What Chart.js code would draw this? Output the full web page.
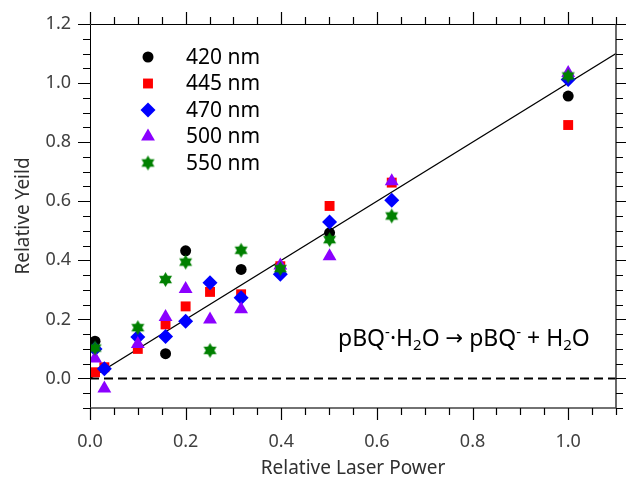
<!DOCTYPE html>
<html><head><meta charset="utf-8">
<script src="https://cdn.jsdelivr.net/npm/chart.js@4.4.0/dist/chart.umd.min.js"></script>
<style>html,body{margin:0;padding:0;background:#fff}#wrap{width:626px;height:481px;position:relative}canvas{display:block}</style>
</head><body><div id="wrap"><canvas id="c" width="626" height="481" style="width:626px;height:481px"></canvas></div>
<script>
// ---- data ----
const xValues = [0.0105, 0.03, 0.1, 0.158, 0.2, 0.251, 0.316, 0.398, 0.501, 0.631, 1.0];
const seriesNames = ['420 nm', '445 nm', '470 nm', '500 nm', '550 nm'];
const y420 = [0.126, null, null, 0.084, 0.432, null, 0.369, null, 0.493, null, 0.956];
const y445 = [0.021, 0.038, 0.100, 0.183, 0.244, 0.293, 0.285, 0.380, 0.584, 0.663, 0.858];
const y470 = [0.100, 0.033, 0.140, 0.142, 0.194, 0.324, 0.273, 0.353, 0.530, 0.603, 1.012];
const y500 = [0.068, -0.034, 0.117, 0.208, 0.303, 0.200, 0.234, 0.382, 0.414, 0.668, 1.034];
const y550 = [0.103, null, 0.172, 0.335, 0.394, 0.095, 0.434, 0.372, 0.470, 0.550, 1.024];
const fitX = [0, 1.1];
const fitY = [0, 1.1];
const zeroX = [0, 1.1];
const zeroY = [0, 0];
const xTickLabels = [0.0, 0.2, 0.4, 0.6, 0.8, 1.0];
const yTickLabels = [0.0, 0.2, 0.4, 0.6, 0.8, 1.0, 1.2];
// annotation pieces: [text, kind]  kind: n = normal, sup = superscript, sub = subscript, sym = symbol
const annotationParts = [['pBQ', 'n'], ['-', 'sup'], ['\u00B7H', 'n'], ['2', 'sub'], ['O ', 'n'], ['\u2192', 'sym'], [' pBQ', 'n'], ['-', 'sup'], [' + H', 'n'], ['2', 'sub'], ['O', 'n']];

const FONT = '"Noto Sans", "Open Sans", sans-serif';

function makeStar(color, R) {
  const s = Math.ceil(2 * R) + 2;
  const c = document.createElement('canvas');
  c.width = s; c.height = s;
  const g = c.getContext('2d');
  g.fillStyle = color;
  const cx = s / 2, cy = s / 2;
  [-Math.PI / 2, Math.PI / 2].forEach(a0 => {
    g.beginPath();
    for (let k = 0; k < 3; k++) {
      const a = a0 + k * 2 * Math.PI / 3;
      const px = cx + R * Math.cos(a), py = cy + R * Math.sin(a);
      if (k) g.lineTo(px, py); else g.moveTo(px, py);
    }
    g.closePath();
    g.fill();
  });
  return c;
}
const star = makeStar('#008000', 7.5);

const toPts = (ys) => xValues.map((x, i) => ({x, y: ys[i]})).filter(p => p.y !== null);
const styles = [
  {c: '#000000', s: 'circle', r: 5.5},
  {c: '#ff0000', s: 'rect', r: 7},
  {c: '#0000ff', s: 'rectRot', r: 7.5},
  {c: '#8b00ff', s: 'triangle', r: 8},
  {c: '#008000', s: star, r: 7.5}
];
const allY = [y420, y445, y470, y500, y550];

const datasets = allY.map((ys, i) => ({
  label: seriesNames[i],
  data: toPts(ys),
  showLine: false,
  pointStyle: styles[i].s,
  pointRadius: styles[i].r,
  pointHoverRadius: styles[i].r,
  pointBorderWidth: 0,
  backgroundColor: styles[i].c,
  borderColor: styles[i].c,
  order: 5 - i
}));
datasets.push({
  label: 'fit', data: fitX.map((x, i) => ({x, y: fitY[i]})), showLine: true,
  borderColor: '#000', borderWidth: 1.2, pointRadius: 0, order: 10
});
datasets.push({
  label: 'zero', data: zeroX.map((x, i) => ({x, y: zeroY[i]})), showLine: true,
  borderColor: '#000', borderWidth: 2, borderDash: [9, 5], pointRadius: 0, order: 11
});

const decor = {
  id: 'decor',
  afterDraw(chart) {
    const {ctx, chartArea: a, scales: {x, y}} = chart;
    ctx.save();
    // frame
    ctx.strokeStyle = '#000';
    ctx.lineWidth = 1;
    ctx.beginPath();
    ctx.moveTo(a.left + 0.5, a.bottom); ctx.lineTo(a.left + 0.5, a.top + 0.5); ctx.lineTo(a.right, a.top + 0.5);
    ctx.stroke();
    ctx.strokeStyle = '#444';
    ctx.lineWidth = 1.6;
    ctx.beginPath();
    ctx.moveTo(a.left, a.bottom); ctx.lineTo(a.right, a.bottom); ctx.lineTo(a.right, a.top);
    ctx.stroke();
    // ticks
    ctx.strokeStyle = '#000';
    ctx.lineWidth = 1.2;
    ctx.beginPath();
    for (let k = 0; k <= 22; k++) {
      const v = k * 0.05;
      const px = Math.round(x.getPixelForValue(v)) + 0.5;
      const L = (k % 4 === 0) ? 12 : 7;
      ctx.moveTo(px, a.bottom); ctx.lineTo(px, a.bottom + L);
      ctx.moveTo(px, a.top); ctx.lineTo(px, a.top - L);
    }
    for (let k = -2; k <= 24; k++) {
      const v = k * 0.05;
      const py = Math.round(y.getPixelForValue(v)) + 0.5;
      const L = (k % 4 === 0) ? 12 : 7;
      ctx.moveTo(a.left, py); ctx.lineTo(a.left - L, py);
      ctx.moveTo(a.right, py); ctx.lineTo(a.right + L, py);
    }
    ctx.stroke();
    // legend
    const lx = 148, ly0 = 57, dy = 26.5;
    chart.data.datasets.slice(0, 5).forEach((ds, i) => {
      const yy = ly0 + i * dy;
      ctx.fillStyle = ds.backgroundColor;
      ctx.strokeStyle = ds.backgroundColor;
      Chart.helpers.drawPoint(ctx, {pointStyle: ds.pointStyle, radius: ds.pointRadius, rotation: 0, borderWidth: 0}, lx, yy);
      ctx.fillStyle = '#000';
      ctx.font = '21px ' + FONT;
      ctx.textAlign = 'left';
      ctx.textBaseline = 'middle';
      ctx.fillText(ds.label, 186, yy + 1);
    });
    // annotation
    ctx.fillStyle = '#000';
    ctx.textAlign = 'left';
    ctx.textBaseline = 'alphabetic';
    let tx = 338;
    const base = 346;
    annotationParts.forEach(([t, kind]) => {
      let f = '23px ' + FONT, dyy = 0;
      if (kind === 'sup') { f = '15px ' + FONT; dyy = -9; }
      if (kind === 'sub') { f = '15px ' + FONT; dyy = 4; }
      if (kind === 'sym') { f = '21px "DejaVu Sans", sans-serif'; dyy = -1; }
      ctx.font = f;
      ctx.fillText(t, tx, base + dyy);
      tx += ctx.measureText(t).width;
    });
    ctx.restore();
  }
};

new Chart(document.getElementById('c'), {
  type: 'scatter',
  data: {datasets},
  options: {
    responsive: false,
    animation: false,
    devicePixelRatio: 1,
    layout: {padding: {left: 0, top: 24, right: 10, bottom: 0}},
    plugins: {legend: {display: false}, tooltip: {enabled: false}},
    scales: {
      x: {
        type: 'linear', min: 0, max: 1.1,
        grid: {display: false, drawTicks: false},
        border: {display: false},
        afterBuildTicks: (s) => { s.ticks = xTickLabels.map(v => ({value: v})); },
        afterFit: (s) => { s.height = 73; s.paddingLeft = 0; s.paddingRight = 0; },
        ticks: {
          callback: (v) => Number(v).toFixed(1),
          color: '#404040', font: {size: 18, family: FONT}, padding: 23, maxRotation: 0, autoSkip: false
        },
        title: {display: true, text: 'Relative Laser Power', color: '#303030', font: {size: 19, family: FONT}, padding: {top: 0, bottom: 1}}
      },
      y: {
        type: 'linear', min: -0.1, max: 1.2,
        grid: {display: false, drawTicks: false},
        border: {display: false},
        afterBuildTicks: (s) => { s.ticks = yTickLabels.map(v => ({value: v})); },
        afterFit: (s) => { s.width = 90; s.paddingTop = 0; s.paddingBottom = 0; },
        ticks: {
          callback: (v) => Number(v).toFixed(1),
          color: '#404040', font: {size: 18, family: FONT}, padding: 19, autoSkip: false
        },
        title: {display: true, text: 'Relative Yeild', color: '#303030', font: {size: 19, family: FONT}, padding: {top: 12, bottom: 0}}
      }
    }
  },
  plugins: [decor]
});
</script>
</body></html>
